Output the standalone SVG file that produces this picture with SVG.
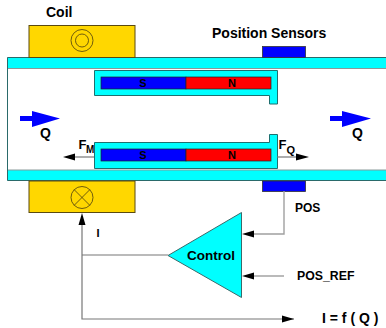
<svg xmlns="http://www.w3.org/2000/svg" width="386" height="328" viewBox="0 0 386 328">
<style>
text{font-family:"Liberation Sans",Arial,sans-serif;font-weight:bold;fill:#000;font-size:12px}
.big{font-size:14px}
.pole{font-size:11px;text-anchor:middle}
.coil{fill:#ffd700;stroke:#5a4a10;stroke-width:1}
.thin{fill:none;stroke:#4a3c10;stroke-width:.8}
.band{fill:#00ffff;stroke:none}
.edge{fill:none;stroke:#2a6a6a;stroke-width:1}
.house{fill:#00ffff;stroke:#1f6f6f;stroke-width:1}
.sensor{fill:#0000ff;stroke:#333;stroke-width:.8}
.wire{fill:none;stroke:#777;stroke-width:1.2}
.wire2{fill:none;stroke:#a0a0a0;stroke-width:1.4}
.ah{fill:#000;stroke:none}
.q{fill:#0000ff;stroke:none}
.blue{fill:#0000ff;stroke:#222;stroke-width:.7}
.red{fill:#ff0000;stroke:#222;stroke-width:.7}
</style>
<g id="pipe">
<rect class="band" x="7" y="57.5" width="379" height="10.5"/>
<rect class="band" x="7" y="170" width="379" height="10.5"/>
<path class="edge" d="M386 57.5H7.5V180.5H386"/>
<path d="M8 68.5H386M8 170H386" fill="none" stroke="#8a9a9a" stroke-width="1"/>
</g>
<g id="coil-top">
<rect class="coil" x="29" y="25.5" width="106" height="32"/>
<circle class="thin" cx="82" cy="40.5" r="11"/>
<circle class="thin" cx="82" cy="40.5" r="6.5"/>
</g>
<g id="coil-bottom">
<rect class="coil" x="29" y="181" width="106" height="31.5"/>
<circle class="thin" cx="82" cy="197.5" r="11"/>
<path class="thin" d="M74.2 189.7L89.8 205.3M89.8 189.7L74.2 205.3"/>
</g>
<g id="sensor-top"><rect class="sensor" x="262.5" y="46.5" width="43" height="11"/></g>
<g id="sensor-bottom"><rect class="sensor" x="262.5" y="181" width="43" height="10.5"/></g>
<g id="magnet-top">
<path class="house" d="M94.5 70.5H277.5V104H269.5V95.5H94.5Z"/>
<rect class="blue" x="101" y="77" width="85" height="12"/>
<rect class="red" x="186" y="77" width="85" height="12"/>
<text class="pole" x="143" y="87">S</text>
<text class="pole" x="232" y="87">N</text>
</g>
<g id="magnet-bottom">
<path class="house" d="M94.5 142.5H269.5V134.5H277.5V168.5H94.5Z"/>
<rect class="blue" x="101" y="149" width="85" height="12"/>
<rect class="red" x="186" y="149" width="85" height="12"/>
<text class="pole" x="143" y="159">S</text>
<text class="pole" x="232" y="159">N</text>
</g>
<g id="control">
<path d="M168 255.5L241.5 212.5V297.5Z" fill="#00ffff" stroke="#3a6a6a" stroke-width="1"/>
<text x="211" y="260" text-anchor="middle" style="font-size:13.5px">Control</text>
</g>
<g id="connectors">
<path class="wire" d="M94 157H70"/>
<path class="ah" d="M63 157L75 153.5V160.5Z"/>
<path class="wire" d="M277 157H300"/>
<path class="ah" d="M309 157L296 153.5V160.5Z"/>
<path class="wire2" d="M284 191V234H250"/>
<path class="ah" d="M242 234L254 230.5V237.5Z"/>
<path class="wire" d="M284 276H250"/>
<path class="ah" d="M242 276L254 272.5V279.5Z"/>
<path class="wire" d="M168 255H82"/>
<path class="wire" d="M294 319H82V222"/>
<path class="ah" d="M82 213L78.5 225H85.5Z"/>
<path class="ah" d="M294 319L282 315.5V322.5Z"/>
<path class="q" d="M20 116H32V111L60 118.5L32 127V121H20Z"/>
<path class="q" d="M330 116H342V111L371 118.5L342 127V121H330Z"/>
</g>
<g id="labels">
<text class="big" x="46" y="17">Coil</text>
<text class="big" x="212" y="38">Position Sensors</text>
<text class="big" x="40" y="138">Q</text>
<text class="big" x="352" y="138">Q</text>
<text x="78.5" y="149" style="font-size:13px">F</text>
<text x="86" y="153" style="font-size:10px">M</text>
<text x="278.5" y="149" style="font-size:13px">F</text>
<text x="286.5" y="154" style="font-size:11px">Q</text>
<text x="96.5" y="237" style="font-size:11px">I</text>
<text x="295" y="212" style="font-size:12px">POS</text>
<text x="297" y="280" style="font-size:12.3px">POS_REF</text>
<text class="big" x="322" y="323">I = f ( Q )</text>
</g>
</svg>
